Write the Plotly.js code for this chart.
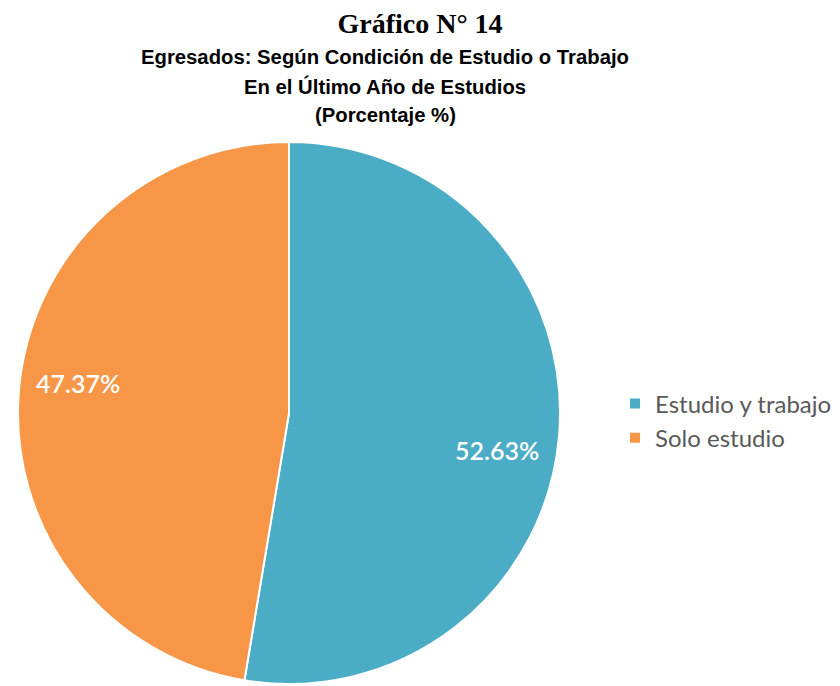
<!DOCTYPE html>
<html>
<head>
<meta charset="utf-8">
<script src="https://cdn.plot.ly/plotly-3.0.1.min.js"></script>
<style>html,body{margin:0;padding:0;background:#fff;}#chart{width:840px;height:686px;}</style>
</head>
<body>
<div id="chart"></div>
<script>
const categories = ["Estudio y trabajo", "Solo estudio"];
const values = [52.63, 47.37];
const colors = ["#4BACC6", "#F79646"];
const mainTitle = "Gráfico N° 14";
const subtitleLines = ["Egresados: Según Condición de Estudio o Trabajo", "En el Último Año de Estudios", "(Porcentaje %)"];

const W = 840, H = 686;
const cx = 289, cy = 413, R = 271;
const dom = {x: [(cx - R) / W, (cx + R) / W], y: [1 - (cy + R) / H, 1 - (cy - R) / H]};

// label positions along slice bisectors (clockwise from 12 o'clock)
const total = values.reduce((a, b) => a + b, 0);
const labelOffsets = [[-3, 20], [0, -13]];
const annotations = [];
let acc = 0;
values.forEach((v, i) => {
  const mid = (acc + v / 2) / total * 2 * Math.PI;
  acc += v;
  const r = 0.78 * R;
  const px = cx + r * Math.sin(mid) + labelOffsets[i][0];
  const py = cy - r * Math.cos(mid) + labelOffsets[i][1];
  annotations.push({
    x: px / W, y: 1 - py / H, xref: "paper", yref: "paper",
    text: v.toFixed(2) + "%", showarrow: false,
    font: {family: "Lato, 'Open Sans', sans-serif", size: 25, color: "#ffffff", weight: 600},
    xanchor: "center", yanchor: "middle"
  });
});
const subY = [57, 86, 115];
subtitleLines.forEach((t, i) => {
  annotations.push({
    x: 385 / W, y: 1 - subY[i] / H, xref: "paper", yref: "paper",
    text: "<b>" + t + "</b>", showarrow: false,
    font: {family: "'Liberation Sans Narrow', 'Arial Narrow', 'Liberation Sans', sans-serif", size: 20.3, color: "#000"},
    xanchor: "center", yanchor: "middle"
  });
});

const data = [{
  type: "pie",
  labels: categories,
  values: values,
  marker: {colors: colors, line: {color: "#ffffff", width: 2}},
  sort: false,
  direction: "clockwise",
  rotation: 0,
  textinfo: "none",
  hoverinfo: "label+percent",
  domain: dom
}];

const layout = {
  width: W, height: H,
  margin: {l: 0, r: 0, t: 0, b: 0},
  paper_bgcolor: "#ffffff",
  title: {
    text: "<b>" + mainTitle + "</b>",
    font: {family: "'Liberation Serif', 'Times New Roman', serif", size: 28, color: "#000"},
    x: 420 / W, xanchor: "center", y: 1 - 23 / H, yanchor: "middle"
  },
  showlegend: true,
  legend: {
    x: 615 / W, y: 1 - 421 / H, xanchor: "left", yanchor: "middle",
    font: {family: "Lato, 'Open Sans', sans-serif", size: 24, color: "#595959"},
    bgcolor: "rgba(0,0,0,0)", itemwidth: 30
  },
  annotations: annotations
};

Plotly.newPlot("chart", data, layout, {displayModeBar: false});
</script>
</body>
</html>
